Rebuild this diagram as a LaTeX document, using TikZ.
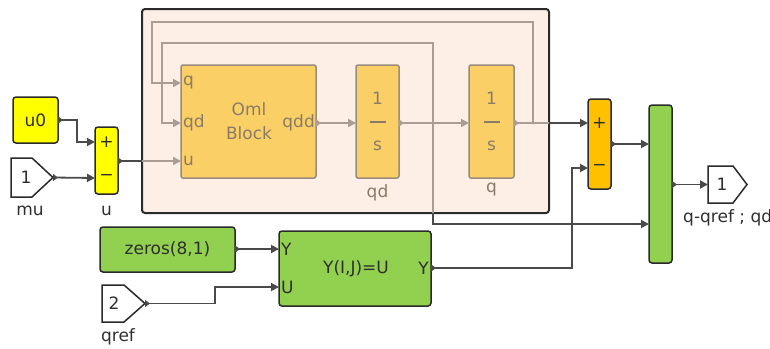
\documentclass[tikz,border=0pt]{standalone}
\usepackage{fontspec}
\setmainfont{DejaVu Sans}
\usetikzlibrary{arrows.meta}
\definecolor{superfill}{HTML}{FDEFE6}
\definecolor{superdraw}{HTML}{2A2A2A}
\definecolor{dimfill}{HTML}{FACF66}
\definecolor{dimdraw}{HTML}{9A8C7C}
\definecolor{dimtext}{HTML}{8A7B68}
\definecolor{dimline}{HTML}{A99D96}
\definecolor{darkline}{HTML}{4A4A4A}
\definecolor{yel}{HTML}{FFFF00}
\definecolor{org}{HTML}{FFC000}
\definecolor{grn}{HTML}{92D050}
\definecolor{txt}{HTML}{2E2E2E}
\tikzset{
  fnt/.style={font=\fontsize{17}{20}\selectfont},
  blk/.style={draw=superdraw, line width=1.5pt, rounded corners=3pt, inner sep=0pt, fnt, text=txt},
  dimblk/.style={draw=dimdraw, line width=1.5pt, fill=dimfill, rounded corners=2pt, inner sep=0pt, fnt, text=dimtext},
  lbl/.style={fnt, text=txt, inner sep=0pt},
  dimlbl/.style={fnt, text=dimtext, inner sep=0pt},
  sig/.style={draw=darkline, line width=1.8pt, -{Triangle[length=8pt,width=8pt]}},
  sigo/.style={draw=darkline, line width=1.8pt, {Triangle[length=5pt,width=7pt,reversed]}-{Triangle[length=8pt,width=8pt]}},
  sigon/.style={draw=darkline, line width=1.8pt, {Triangle[length=5pt,width=7pt,reversed]}-},
  isig/.style={draw=dimline, line width=1.8pt, -{Triangle[length=8pt,width=8pt]}},
  isigo/.style={draw=dimline, line width=1.8pt, {Triangle[length=5pt,width=7pt,reversed]}-{Triangle[length=8pt,width=8pt]}},
  isigon/.style={draw=dimline, line width=1.8pt, {Triangle[length=5pt,width=7pt,reversed]}-},
  iplain/.style={draw=dimline, line width=1.8pt},
  port/.style={draw=superdraw, line width=1.5pt, fill=white},
}
\begin{document}
\begin{tikzpicture}[x=1pt,y=-1pt]
\useasboundingbox (0,0) rectangle (770,348);
% superblock
\node[draw=superdraw, line width=2pt, fill=superfill, rounded corners=3pt, minimum width=407pt, minimum height=204pt, inner sep=0pt] (super) at (345.5,111) {};
% inner blocks
\node[dimblk, minimum width=135pt, minimum height=113pt] (oml) at (248.5,121.5) {};
\node[dimlbl] (omlt1) at (249,109) {Oml};
\node[dimlbl] (omlt2) at (249,133) {Block};
\node[dimlbl, anchor=west] (omlpq) at (183,83) {q};
\node[dimlbl, anchor=west] (omlpqd) at (183,123) {qd};
\node[dimlbl, anchor=west] (omlpu) at (183,161) {u};
\node[dimlbl, anchor=east] (omlpqdd) at (315,123) {qdd};
\node[dimblk, minimum width=43pt, minimum height=113pt] (intqd) at (377.5,121.5) {};
\node[dimlbl] (intqd1) at (377.5,98) {1};
\node[dimlbl] (intqds) at (377.5,146) {s};
\draw[dimtext, line width=1.3pt] (369.5,122) -- (385.5,122);
\node[dimlbl] (intqdl) at (377.5,193) {qd};
\node[dimblk, minimum width=45pt, minimum height=113pt] (intq) at (491.5,121.5) {};
\node[dimlbl] (intq1) at (491.5,98) {1};
\node[dimlbl] (intqs) at (491.5,146) {s};
\draw[dimtext, line width=1.3pt] (483.5,122) -- (499.5,122);
\node[dimlbl] (intql) at (491.5,190) {q};
% outer blocks
\node[blk, fill=yel, minimum width=45pt, minimum height=46pt] (u0) at (35.5,120) {u0};
\node[blk, fill=yel, minimum width=23pt, minimum height=67pt] (sumu) at (106.5,160.5) {};
\node[lbl] (sumup) at (106.5,142) {+};
\node[lbl] (sumum) at (106.5,177) {−};
\node[lbl] (sumul) at (106.5,211) {u};
\draw[port] (11,158) -- (32,158) -- (53,177.5) -- (32,197) -- (11,197) -- cycle;
\node[lbl] (mu) at (26,177.5) {1};
\node[lbl] (mul) at (30,211) {mu};
\node[blk, fill=org, minimum width=23pt, minimum height=90pt] (sum2) at (599.5,144) {};
\node[lbl] (sum2p) at (599.5,123) {+};
\node[lbl] (sum2m) at (599.5,167) {−};
\node[blk, fill=grn, minimum width=23pt, minimum height=158pt] (mux) at (660.5,184) {};
\draw[port] (708,166) -- (733,166) -- (747,184.5) -- (733,203) -- (708,203) -- cycle;
\node[lbl] (out1) at (722,184.5) {1};
\node[lbl, anchor=west] (out1l) at (683,218) {q-qref ; qd};
\node[blk, fill=grn, minimum width=135pt, minimum height=45pt] (zeros) at (167.5,249.5) {zeros(8,1)};
\node[blk, fill=grn, minimum width=152pt, minimum height=75pt] (assign) at (355,268.5) {};
\node[lbl] (assignt) at (356,269) {Y(I,J)=U};
\node[lbl, anchor=west] (assignY) at (281,249) {Y};
\node[lbl, anchor=west] (assignU) at (281,287) {U};
\node[lbl, anchor=east] (assignO) at (429,268) {Y};
\draw[port] (102,285) -- (124,285) -- (145,303.5) -- (124,322) -- (102,322) -- cycle;
\node[lbl] (in2) at (114,303.5) {2};
\node[lbl] (in2l) at (118,337) {qref};
% port coordinates
\coordinate (u0o) at (58,120);
\coordinate (sumuip) at (95,142);
\coordinate (sumuim) at (95,178);
\coordinate (muo) at (53,177.5);
\coordinate (sumuo) at (118,161);
\coordinate (sbl) at (142,161);
\coordinate (omlq) at (181,83);
\coordinate (omlqd) at (181,123);
\coordinate (omlu) at (181,161);
\coordinate (omlo) at (316,123);
\coordinate (intqdi) at (356,123);
\coordinate (intqdo) at (399,123);
\coordinate (intqi) at (469,123);
\coordinate (intqo) at (514,123);
\coordinate (sbr) at (549,123);
\coordinate (brq) at (533,123);
\coordinate (brqd) at (433,123);
\coordinate (sbb) at (433,213);
\coordinate (sum2ip) at (588,123);
\coordinate (sum2im) at (588,168);
\coordinate (sum2o) at (611,144);
\coordinate (muxi1) at (649,144);
\coordinate (muxi2) at (649,224);
\coordinate (muxo) at (672,184.5);
\coordinate (outi) at (708,184.5);
\coordinate (zeroso) at (235,249);
\coordinate (assignYi) at (279,249);
\coordinate (assignUi) at (279,287);
\coordinate (assigno) at (431,268);
\coordinate (in2o) at (145,303.5);
% inner connections
\draw[isigo] (omlo) -- (intqdi);
\draw[isigo] (intqdo) -- (intqi);
\draw[isigon] (intqo) -- (sbr);
\draw[isig] (sbl) -- (omlu);
\draw[isig] (brq) -- (533,22) -- (152,22) -- (152,83) -- (omlq);
\draw[isig] (brqd) -- (433,43) -- (162,43) -- (162,123) -- (omlqd);
\draw[iplain] (brqd) -- (sbb);
\fill[dimline] (brq) circle (1.5pt);
\fill[dimline] (brqd) circle (1.5pt);
% outer connections
\draw[sig] (sbr) -- (sum2ip);
\draw[sig] (sbb) -- (433,224) -- (muxi2);
\draw[sigon] (sumuo) -- (sbl);
\draw[sigo] (u0o) -- (77,120) -- (77,142) -- (sumuip);
\draw[sigo] (muo) -- (sumuim);
\draw[sigo] (sum2o) -- (muxi1);
\draw[sigo] (muxo) -- (outi);
\draw[sigo] (zeroso) -- (assignYi);
\draw[sigo] (in2o) -- (215,303.5) -- (215,287) -- (assignUi);
\draw[sigo] (assigno) -- (572,268) -- (572,168) -- (sum2im);
\end{tikzpicture}
\end{document}
